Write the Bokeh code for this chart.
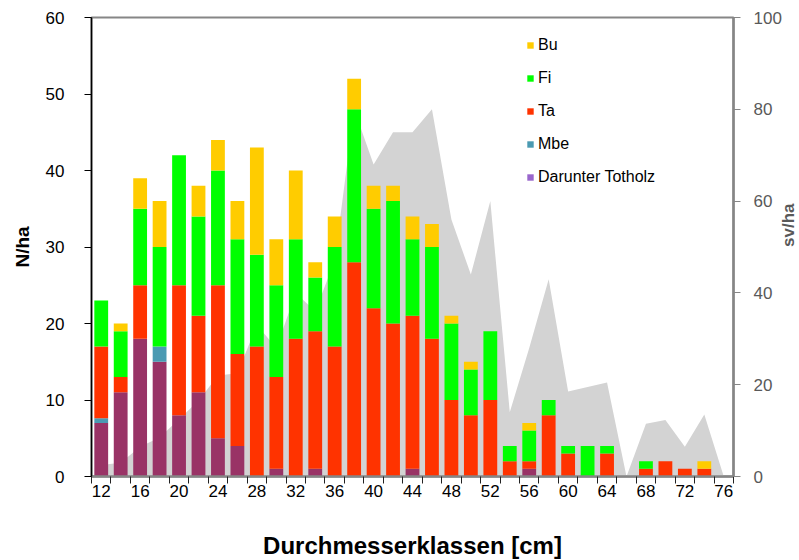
import math
from bokeh.plotting import figure
from bokeh.models import (Range1d, LinearAxis, FixedTicker, Legend, LegendItem,
                          ColumnDataSource)
from bokeh.embed import file_html
from bokeh.resources import INLINE

# ---- data ----
classes = [12, 14, 16, 18, 20, 22, 24, 26, 28, 30, 32, 34, 36, 38, 40, 42, 44,
           46, 48, 50, 52, 54, 56, 58, 60, 62, 64, 66, 68, 70, 72, 74, 76]
totholz = [7, 11, 18, 15, 8, 11, 5, 4, 0, 1, 0, 1, 0, 0, 0, 0, 1,
           0, 0, 0, 0, 0, 1, 0, 0, 0, 0, 0, 0, 0, 0, 0, 0]
mbe = [0.6, 0, 0, 2, 0, 0, 0, 0, 0, 0, 0, 0, 0, 0, 0, 0, 0,
       0, 0, 0, 0, 0, 0, 0, 0, 0, 0, 0, 0, 0, 0, 0, 0]
ta = [9.4, 2, 7, 0, 17, 10, 20, 12, 17, 12, 18, 18, 17, 28, 22, 20, 20,
      18, 10, 8, 10, 2, 1, 8, 3, 0, 3, 0, 1, 2, 1, 1, 0]
fi = [6, 6, 10, 13, 17, 13, 15, 15, 12, 12, 13, 7, 13, 20, 13, 16, 10,
      12, 10, 6, 9, 2, 4, 2, 1, 4, 1, 0, 1, 0, 0, 0, 0]
bu = [0, 1, 4, 6, 0, 4, 4, 5, 14, 6, 9, 2, 4, 4, 3, 2, 3,
      3, 1, 1, 0, 0, 1, 0, 0, 0, 0, 0, 0, 0, 0, 1, 0]
sv_ha = [2.5, 3, 6.5, 8.5, 12.5, 16.5, 22, 22.5, 33, 28, 40, 36, 47, 80, 68, 75, 75,
         80, 56, 44, 60, 14, 28, 43, 18.5, 19.5, 20.5, 0, 11.5, 12.3, 6.5, 13.5, 0]
x_label_ticks = [12, 16, 20, 24, 28, 32, 36, 40, 44, 48, 52, 56, 60, 64, 68, 72, 76]
left_ticks = [0, 10, 20, 30, 40, 50, 60]
right_ticks = [0, 20, 40, 60, 80, 100]
series_names = ["Bu", "Fi", "Ta", "Mbe", "Darunter Totholz"]
x_title = "Durchmesserklassen [cm]"
y_title = "N/ha"
y2_title = "sv/ha"

FONT = "Liberation Sans"
C_BU, C_FI, C_TA, C_MBE = "#FFCC00", "#00FF00", "#FF3300", "#4A9AB2"
C_TOT_BAR, C_TOT_LEG = "#993366", "#9966CC"
GRAY = "#868686"

src = ColumnDataSource(dict(x=classes, tot=totholz, mbe=mbe, ta=ta, fi=fi, bu=bu, sv=sv_ha))

p = figure(frame_width=642, frame_height=459,
           x_range=Range1d(11, 77), y_range=Range1d(0, 60),
           output_backend="svg", toolbar_location=None,
           min_border_left=91, min_border_right=66, min_border_top=17, min_border_bottom=84,
           x_axis_type=None, y_axis_type=None)
p.extra_y_ranges = {"sv": Range1d(0, 100)}
p.outline_line_color = GRAY
p.outline_line_width = 2
p.background_fill_color = "white"
p.border_fill_color = "white"

# secondary area
p.varea(x="x", y1=0, y2="sv", source=src, y_range_name="sv",
        fill_color="#D3D3D3", level="image")

# stacked bars
p.vbar_stack(["tot", "mbe", "ta", "fi", "bu"], x="x", width=1.42, source=src,
             fill_color=[C_TOT_BAR, C_MBE, C_TA, C_FI, C_BU], line_color=None)

# axes
yl = LinearAxis(ticker=FixedTicker(ticks=left_ticks))
yl.axis_line_color = "black"
yl.axis_line_width = 1.5
yl.major_tick_line_color = "black"
yl.major_tick_out = 7
yl.major_tick_in = 0
yl.minor_tick_out = 0
yl.major_label_standoff = 20
yl.major_label_text_font = FONT
yl.major_label_text_font_size = "17px"
yl.major_label_text_color = "black"
yl.axis_label = y_title
yl.axis_label_text_font = FONT
yl.axis_label_text_font_style = "bold"
yl.axis_label_text_font_size = "19px"
yl.axis_label_text_color = "black"
yl.axis_label_standoff = 10
p.add_layout(yl, "left")

yr = LinearAxis(y_range_name="sv", ticker=FixedTicker(ticks=right_ticks))
yr.axis_line_color = GRAY
yr.axis_line_width = 2.5
yr.major_tick_line_color = GRAY
yr.major_tick_out = 7
yr.major_tick_in = 0
yr.minor_tick_out = 0
yr.major_label_standoff = 13
yr.major_label_text_font = FONT
yr.major_label_text_font_size = "17px"
yr.major_label_text_color = "#595959"
yr.axis_label = y2_title
yr.axis_label_text_font = FONT
yr.axis_label_text_font_style = "bold"
yr.axis_label_text_font_size = "17px"
yr.axis_label_text_color = "#595959"
yr.axis_label_standoff = 4
yr.axis_label_orientation = math.pi / 2
p.add_layout(yr, "right")

xb = LinearAxis(ticker=FixedTicker(ticks=x_label_ticks,
                                   minor_ticks=[c - 1 for c in classes] + [classes[-1] + 1]))
xb.axis_line_color = GRAY
xb.axis_line_width = 2.5
xb.major_tick_out = 0
xb.major_tick_in = 0
xb.minor_tick_out = 7
xb.minor_tick_in = 0
xb.minor_tick_line_color = "#222222"
xb.major_label_standoff = 1
xb.major_label_text_font = FONT
xb.major_label_text_font_size = "17px"
xb.major_label_text_color = "black"
xb.axis_label = x_title
xb.axis_label_text_font = FONT
xb.axis_label_text_font_style = "bold"
xb.axis_label_text_font_size = "24px"
xb.axis_label_text_color = "black"
xb.axis_label_standoff = 32
p.add_layout(xb, "below")

# grid
p.ygrid.ticker = FixedTicker(ticks=left_ticks[1:-1])
p.ygrid.grid_line_color = "black"
p.ygrid.grid_line_dash = "2 1"
p.ygrid.grid_line_width = 1
p.ygrid.grid_line_alpha = 0.9
p.xgrid.visible = False

# legend with proxy renderers (single point outside the visible x range)
leg_colors = [C_BU, C_FI, C_TA, C_MBE, C_TOT_LEG]
items = []
for name, col in zip(series_names, leg_colors):
    r = p.vbar(x=[0], top=[0], width=1, fill_color=col, line_color=None)
    items.append(LegendItem(label=name, renderers=[r]))
legend = Legend(items=items, location=(435, 289),
                background_fill_color="white", background_fill_alpha=1.0,
                border_line_color=None, glyph_width=8, glyph_height=8,
                label_text_font=FONT, label_text_font_size="16px",
                label_text_color="black", label_standoff=4, label_height=20,
                spacing=13, padding=10, margin=0)
p.add_layout(legend, "center")

open("out.html", "w").write(file_html(p, INLINE))
